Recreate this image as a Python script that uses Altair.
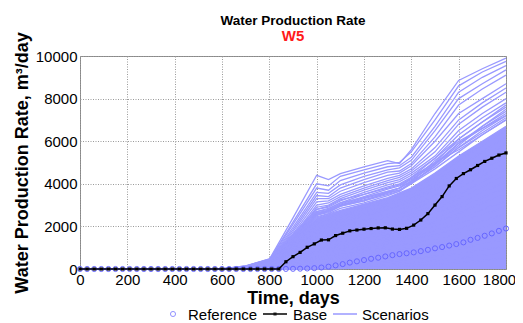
import altair as alt
import pandas as pd

FONT = "Liberation Sans"
SCEN_COLOR = "#9999ff"
REF_COLOR = "#6666ff"

# ---- data ----
days = list(range(0, 1801, 30))

base_values = [0, 0, 0, 0, 0, 0, 0, 0, 0, 0, 0, 0, 0, 0, 0, 0, 0, 0, 0, 0, 0, 0, 0, 0, 0, 0, 0, 0, 0,
               340, 580, 780, 1020, 1180, 1360, 1370, 1570, 1680, 1790, 1830, 1870, 1900, 1930, 1935,
               1875, 1860, 1910, 2060, 2300, 2600, 3000, 3400, 3900, 4250, 4480, 4660, 4860, 5050,
               5200, 5350, 5450]

reference_values = [0, 0, 0, 0, 0, 0, 0, 0, 0, 0, 0, 0, 0, 0, 0, 0, 0, 0, 0, 0, 0, 0, 0, 0, 0, 0, 0, 0, 0,
                    5, 10, 15, 25, 40, 70, 110, 170, 230, 300, 360, 420, 480, 530, 590, 650, 700, 740,
                    780, 840, 900, 970, 1030, 1100, 1170, 1250, 1370, 1460, 1560, 1670, 1790, 1900]

upper_days = [0, 600, 700, 800, 900, 1000, 1050, 1100, 1200, 1300, 1350, 1400, 1500, 1600, 1700, 1800]

upper_scenarios = {
    "U1": [0, 0, 60, 450, 2400, 4400, 4200, 4480, 4800, 5090, 4950, 5600, 7300, 8850, 9400, 9900],
    "U2": [0, 0, 60, 420, 2200, 4000, 3900, 4350, 4650, 4950, 5000, 5500, 7000, 8600, 9250, 9750],
    "U3": [0, 0, 50, 400, 2100, 3800, 3700, 4150, 4500, 4800, 4850, 5250, 6700, 8300, 9000, 9550],
    "U4": [0, 0, 50, 380, 1950, 3600, 3550, 3950, 4350, 4650, 4750, 5100, 6500, 8000, 8700, 9350],
    "U5": [0, 0, 40, 350, 1850, 3450, 3400, 3800, 4200, 4550, 4600, 4950, 6200, 7700, 8450, 9100],
    "U6": [0, 0, 40, 330, 1750, 3300, 3300, 3650, 4050, 4400, 4500, 4850, 6000, 7300, 8000, 8700],
    "U7": [0, 0, 40, 320, 1650, 3150, 3200, 3500, 3900, 4250, 4400, 4700, 5700, 7000, 7800, 8500],
    "U8": [0, 0, 30, 300, 1550, 3000, 3100, 3400, 3800, 4150, 4300, 4600, 5500, 6800, 7600, 8300],
    "U9": [0, 0, 30, 300, 1450, 2900, 3000, 3300, 3700, 4050, 4200, 4500, 5300, 6500, 7300, 8000],
    "U10": [0, 0, 30, 280, 1400, 2800, 2900, 3200, 3600, 3950, 4100, 4400, 5200, 6300, 7100, 7800],
    "U11": [0, 0, 30, 280, 1350, 2700, 2800, 3100, 3500, 3850, 4000, 4300, 5000, 6100, 6900, 7600],
    "U12": [0, 0, 30, 260, 1300, 2650, 2750, 3050, 3400, 3750, 3900, 4200, 4900, 5900, 6700, 7400],
    "U13": [0, 0, 20, 250, 1250, 2600, 2700, 3000, 3350, 3650, 3800, 4100, 4800, 5700, 6500, 7200],
    "U14": [0, 0, 20, 240, 1200, 2550, 2650, 2950, 3300, 3600, 3700, 4000, 4700, 5500, 6300, 7000],
    "M1": [0, 0, 140, 470, 1550, 2600, 2750, 3000, 3250, 3550, 3700, 4050, 4800, 5700, 6400, 7100],
    "M2": [0, 0, 130, 460, 1600, 2700, 2850, 3100, 3350, 3650, 3800, 4150, 4950, 5900, 6600, 7300],
    "M3": [0, 0, 120, 440, 1450, 2500, 2700, 2950, 3200, 3500, 3650, 4000, 4900, 5800, 6700, 7500],
    "M4": [0, 0, 110, 430, 1500, 2550, 2700, 2950, 3200, 3600, 3800, 4300, 5200, 6100, 6900, 7700],
    "M5": [0, 0, 100, 420, 1650, 2800, 2950, 3250, 3500, 3800, 3950, 4250, 5000, 5600, 6300, 7000],
    "M6": [0, 0, 100, 400, 1400, 2450, 2600, 2850, 3100, 3450, 3650, 4100, 5100, 6000, 6600, 7200],
}

dense_days = [0, 600, 700, 800, 900, 1000, 1100, 1200, 1300, 1400, 1500, 1600, 1700, 1800]

dense_scenarios = {
    "D1": [0, 0, 150, 450, 1400, 2400, 2750, 3050, 3350, 3800, 4500, 5300, 6000, 6700],
    "D2": [0, 0, 120, 420, 1300, 2250, 2600, 2900, 3250, 3700, 4300, 5100, 5800, 6500],
    "D3": [0, 0, 100, 400, 1200, 2100, 2450, 2800, 3100, 3500, 4100, 4800, 5500, 6200],
    "D4": [0, 0, 90, 380, 1100, 1950, 2300, 2650, 2950, 3300, 3900, 4600, 5200, 5900],
    "D5": [0, 0, 80, 350, 1000, 1800, 2150, 2500, 2800, 3150, 3700, 4300, 4900, 5600],
    "D6": [0, 0, 70, 320, 900, 1650, 2000, 2300, 2600, 2950, 3450, 4000, 4600, 5300],
    "D7": [0, 0, 60, 300, 820, 1500, 1850, 2150, 2450, 2750, 3250, 3800, 4350, 5000],
    "D8": [0, 0, 50, 270, 750, 1350, 1700, 2000, 2250, 2550, 3000, 3500, 4100, 4700],
    "D9": [0, 0, 40, 240, 680, 1200, 1550, 1850, 2100, 2400, 2800, 3300, 3850, 4400],
    "D10": [0, 0, 30, 200, 600, 1050, 1400, 1700, 1950, 2200, 2600, 3050, 3600, 4100],
    "D11": [0, 0, 20, 170, 520, 900, 1250, 1550, 1800, 2050, 2400, 2850, 3350, 3800],
    "D12": [0, 0, 10, 140, 450, 780, 1100, 1400, 1650, 1900, 2200, 2600, 3100, 3500],
    "D13": [0, 0, 0, 110, 380, 650, 950, 1250, 1500, 1750, 2000, 2400, 2800, 3200],
    "D14": [0, 0, 0, 80, 300, 550, 800, 1100, 1350, 1550, 1800, 2150, 2550, 2900],
    "D15": [0, 0, 0, 50, 230, 450, 680, 950, 1200, 1400, 1600, 1900, 2250, 2600],
    "D16": [0, 0, 0, 30, 170, 350, 550, 800, 1050, 1200, 1400, 1650, 1950, 2300],
    "D17": [0, 0, 0, 10, 120, 260, 430, 650, 880, 1000, 1200, 1400, 1700, 2000],
    "D18": [0, 0, 0, 0, 80, 180, 320, 500, 700, 820, 1000, 1150, 1400, 1700],
    "D19": [0, 0, 0, 0, 40, 110, 220, 350, 520, 650, 800, 950, 1150, 1400],
    "D20": [0, 0, 0, 0, 10, 50, 130, 220, 350, 480, 600, 720, 900, 1100],
    "D21": [0, 0, 0, 0, 0, 20, 60, 120, 200, 300, 400, 500, 650, 800],
    "D22": [0, 0, 0, 0, 0, 0, 20, 50, 100, 150, 220, 300, 400, 500],
}

x_ticks = [0, 200, 400, 600, 800, 1000, 1200, 1400, 1600, 1800]
y_ticks = [0, 2000, 4000, 6000, 8000, 10000]

# ---- tables ----
ts_df = pd.DataFrame({"day": days, "base": base_values, "reference": reference_values})

rows = []
for grp, dlist, d in (("upper", upper_days, upper_scenarios), ("dense", dense_days, dense_scenarios)):
    for run, vals in d.items():
        for dd, v in zip(dlist, vals):
            rows.append({"day": dd, "value": v, "run": run, "grp": grp})
scen_df = pd.DataFrame(rows)
dense_df = scen_df[scen_df["grp"] == "dense"]

Y_TITLE = "Water Production Rate, m³/day"

xenc = alt.X("day:Q", scale=alt.Scale(domain=[0, 1800], nice=False, zero=False),
             axis=alt.Axis(values=x_ticks, title="Time, days", format="d",
                           labelOverlap=False, labelFlush=False, labelBound=False,
                           labelOffset={"condition": {"test": "datum.value == 1800", "value": -7},
                                        "value": 0}))


def yenc(field):
    return alt.Y(field, scale=alt.Scale(domain=[0, 10000], nice=False),
                 axis=alt.Axis(values=y_ticks, title=Y_TITLE, format="d",
                               labelOverlap=False, labelFlush=False, labelBound=False))


area = alt.Chart(dense_df).mark_area(color=SCEN_COLOR, opacity=1).encode(
    x=xenc, y=yenc("max(value):Q"))

lines = alt.Chart(scen_df).mark_line(color=SCEN_COLOR, strokeWidth=1.3).encode(
    x=xenc, y=yenc("value:Q"), detail="run:N")

ref = alt.Chart(ts_df).mark_point(shape="circle", filled=False, color=REF_COLOR,
                                  size=26, strokeWidth=1, opacity=1).encode(
    x=xenc, y=yenc("reference:Q"))

base = alt.Chart(ts_df).mark_line(color="black", strokeWidth=1.5,
                                  point=alt.OverlayMarkDef(filled=True, color="black",
                                                           size=10, shape="square")).encode(
    x=xenc, y=yenc("base:Q"))

# ---- titles and legend, placed in pixels relative to the plot area ----
one = alt.Data(values=[{"k": 1}])
title1 = alt.Chart(one).mark_text(text="Water Production Rate", align="center", baseline="middle",
                                  font=FONT, fontSize=13.5, fontWeight="bold", color="black").encode(
    x=alt.value(213), y=alt.value(-35))
title2 = alt.Chart(one).mark_text(text="W5", align="center", baseline="middle",
                                  font=FONT, fontSize=15, fontWeight="bold", color="#ff1a1a").encode(
    x=alt.value(213), y=alt.value(-20))

LY = 258
leg_circle = alt.Chart(one).mark_point(shape="circle", filled=False, color=REF_COLOR,
                                       size=26, strokeWidth=1).encode(
    x=alt.value(93), y=alt.value(LY))
leg_base_line = alt.Chart(one).mark_rule(color="black", strokeWidth=1.5).encode(
    x=alt.value(183), x2=alt.value(207), y=alt.value(LY))
leg_base_pt = alt.Chart(one).mark_point(shape="square", filled=True, color="black", size=10).encode(
    x=alt.value(195), y=alt.value(LY))
leg_scen_line = alt.Chart(one).mark_rule(color=SCEN_COLOR, strokeWidth=1.5).encode(
    x=alt.value(253), x2=alt.value(277), y=alt.value(LY))
text_props = dict(align="left", baseline="middle", font=FONT, fontSize=15, color="black")
leg_t1 = alt.Chart(one).mark_text(text="Reference", **text_props).encode(
    x=alt.value(108), y=alt.value(LY + 1))
leg_t2 = alt.Chart(one).mark_text(text="Base", **text_props).encode(
    x=alt.value(213), y=alt.value(LY + 1))
leg_t3 = alt.Chart(one).mark_text(text="Scenarios", **text_props).encode(
    x=alt.value(282), y=alt.value(LY + 1))

chart = alt.layer(
    area, lines, ref, base,
    title1, title2,
    leg_circle, leg_base_line, leg_base_pt, leg_scen_line, leg_t1, leg_t2, leg_t3,
).properties(
    width=426,
    height=213,
    autosize=alt.AutoSizeParams(type="none"),
    padding={"left": 72, "top": 48, "right": 9, "bottom": 54},
).configure_view(
    stroke="#888888", strokeWidth=1,
).configure_axis(
    labelFont=FONT, labelFontSize=15, labelColor="black",
    titleFont=FONT, titleFontWeight="bold", titleColor="black",
    grid=True, gridColor="#9a9a9a", gridDash=[1, 1.5], gridWidth=1,
    domain=False, ticks=False,
).configure_axisX(
    labelPadding=3, titleFontSize=18, titlePadding=2,
).configure_axisY(
    labelPadding=3, titleFontSize=18, titlePadding=4,
)

chart.save("out.html", embed_options={"renderer": "svg", "actions": False})
